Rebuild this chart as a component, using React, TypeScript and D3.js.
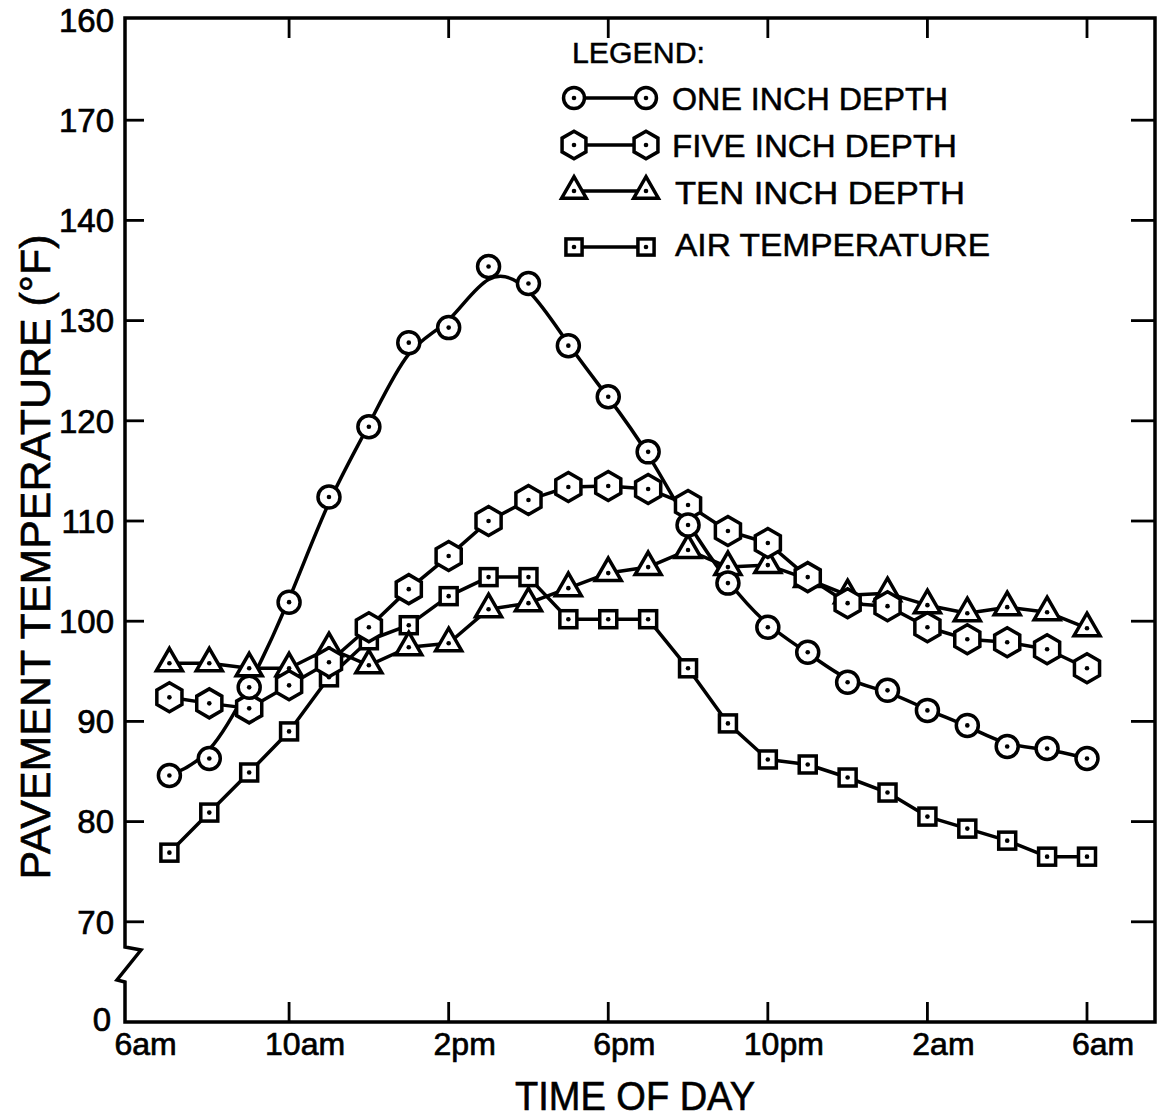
import React from "react";
import * as d3 from "d3";

// ---- data (hours after 6am; 7am .. 6am next day) ----
const hours = [1, 2, 3, 4, 5, 6, 7, 8, 9, 10, 11, 12, 13, 14, 15, 16, 17, 18, 19, 20, 21, 22, 23, 24];
const oneInch = [84.6, 86.3, 93.4, 101.9, 112.4, 119.4, 127.8, 129.3, 135.4, 133.7, 127.5, 122.4, 116.9, 109.6, 103.8, 99.4, 96.9, 93.9, 93.1, 91.1, 89.6, 87.5, 87.3, 86.3];
const fiveInch = [92.4, 91.8, 91.3, 93.6, 95.9, 99.4, 103.2, 106.5, 110.0, 112.1, 113.4, 113.5, 113.2, 111.6, 109.0, 107.8, 104.4, 101.8, 101.5, 99.4, 98.2, 97.9, 97.2, 95.3];
const tenInch = [95.8, 95.8, 95.3, 95.3, 97.3, 95.6, 97.4, 97.8, 101.2, 101.8, 103.3, 104.8, 105.4, 107.1, 105.4, 105.6, 104.2, 102.6, 102.8, 101.6, 100.8, 101.4, 100.9, 99.3];
const airTemp = [76.9, 80.9, 84.9, 89.0, 94.4, 98.1, 99.6, 102.5, 104.4, 104.4, 100.2, 100.2, 100.2, 95.3, 89.8, 86.2, 85.7, 84.4, 82.9, 80.5, 79.3, 78.1, 76.5, 76.5];

const xTickHours = [0, 4, 8, 12, 16, 20, 24];
const xTickLabels = ["6am", "10am", "2pm", "6pm", "10pm", "2am", "6am"];
const yTickValues = [160, 150, 140, 130, 120, 110, 100, 90, 80, 70, 60];
const yTickLabels = ["160", "170", "140", "130", "120", "110", "100", "90", "80", "70", "0"];
const legendTitle = "LEGEND:";
const legendLabels = ["ONE INCH DEPTH", "FIVE INCH DEPTH", "TEN INCH DEPTH", "AIR TEMPERATURE"];

const W = 1161;
const H = 1120;
const LEFT = 125;
const RIGHT = 1155;
const TOP = 18;
const BOTTOM = 1022;
const FONT = "'Liberation Sans', Arial, 'DejaVu Sans', sans-serif";
const SW = 3.5;

const x = d3.scaleLinear().domain([0, 24]).range([129.5, 1087]);
const y = d3.scaleLinear().domain([60, 160]).range([BOTTOM, 20]);

type Kind = "circle" | "hex" | "tri" | "square";

function Marker({ kind, cx, cy, s = 1 }: { kind: Kind; cx: number; cy: number; s?: number }) {
  const common = { fill: "#fff", stroke: "#000", strokeWidth: SW };
  let shape: React.ReactNode = null;
  if (kind === "circle") {
    shape = <circle cx={cx} cy={cy} r={11 * s} {...common} />;
  } else if (kind === "hex") {
    const R = 14.5 * s;
    const pts = d3.range(6).map((i) => {
      const a = ((-90 + 60 * i) * Math.PI) / 180;
      return [cx + R * Math.cos(a), cy + R * Math.sin(a)];
    });
    shape = <polygon points={pts.map((p) => p.join(",")).join(" ")} {...common} strokeLinejoin="miter" />;
  } else if (kind === "tri") {
    const side = 26 * s;
    const h = (side * Math.sqrt(3)) / 2;
    const pts = [
      [cx, cy - (2 * h) / 3],
      [cx + side / 2, cy + h / 3],
      [cx - side / 2, cy + h / 3],
    ];
    shape = <polygon points={pts.map((p) => p.join(",")).join(" ")} {...common} strokeLinejoin="miter" />;
  } else {
    const a = 17 * s;
    shape = <rect x={cx - a / 2} y={cy - a / 2} width={a} height={a} {...common} />;
  }
  return (
    <g>
      {shape}
      <circle cx={cx} cy={cy} r={2.3} fill="#000" />
    </g>
  );
}

const seriesList: { values: number[]; kind: Kind; curve: d3.CurveFactory }[] = [
  { values: airTemp, kind: "square", curve: d3.curveLinear },
  { values: tenInch, kind: "tri", curve: d3.curveLinear },
  { values: fiveInch, kind: "hex", curve: d3.curveLinear },
  { values: oneInch, kind: "circle", curve: d3.curveBasis },
];

export default function App() {
  const lineGen = (curve: d3.CurveFactory) =>
    d3
      .line<number>()
      .x((_, i) => x(hours[i]))
      .y((v) => y(v))
      .curve(curve);

  const innerTicks = yTickValues.filter((v) => v !== 160 && v !== 60);
  const xInner = xTickHours.filter((h) => h !== 0);

  const legendKinds: Kind[] = ["circle", "hex", "tri", "square"];
  const legendMarkY = [98, 145, 191, 247];
  const legendTextY = [110, 157, 204, 256];
  const legendTextX = [672, 672, 675, 675];
  const legendTextLen = [276, 285, 290, 315];

  return (
    <svg
      width={W}
      height={H}
      viewBox={`0 0 ${W} ${H}`}
      style={{ position: "absolute", left: 0, top: 0, background: "#fff" }}
      fontFamily={FONT}
    >
      <rect x={0} y={0} width={W} height={H} fill="#fff" />

      {/* frame */}
      <path
        d={`M${LEFT},${BOTTOM - 40} L${LEFT - 8},${BOTTOM - 42} L${LEFT + 16},${BOTTOM - 72} L${LEFT},${BOTTOM - 75} L${LEFT},${TOP} L${RIGHT},${TOP} L${RIGHT},${BOTTOM} L${LEFT},${BOTTOM} Z`}
        fill="none"
        stroke="#000"
        strokeWidth={SW}
        strokeLinejoin="miter"
      />

      {/* y ticks */}
      {innerTicks.map((v) => (
        <g key={"yt" + v}>
          <line x1={LEFT} x2={LEFT + 19} y1={y(v)} y2={y(v)} stroke="#000" strokeWidth={2.8} />
          <line x1={RIGHT - 24} x2={RIGHT} y1={y(v)} y2={y(v)} stroke="#000" strokeWidth={2.8} />
        </g>
      ))}
      {yTickValues.map((v, i) => (
        <text
          key={"yl" + v}
          x={i === yTickValues.length - 1 ? 111 : 114}
          y={i === yTickValues.length - 1 ? y(v) - 3 : y(v)}
          dy="0.36em"
          textAnchor="end"
          fontSize={33}
          stroke="#000"
          strokeWidth={0.7}
        >
          {yTickLabels[i]}
        </text>
      ))}

      {/* x ticks */}
      {xInner.map((h) => (
        <g key={"xt" + h}>
          <line x1={x(h)} x2={x(h)} y1={BOTTOM} y2={BOTTOM - 20} stroke="#000" strokeWidth={2.8} />
          <line x1={x(h)} x2={x(h)} y1={TOP} y2={TOP + 20} stroke="#000" strokeWidth={2.8} />
        </g>
      ))}
      {xTickHours.map((h, i) => (
        <text
          key={"xl" + i}
          x={x(h) + 16}
          y={1055}
          textAnchor="middle"
          fontSize={32}
          stroke="#000"
          strokeWidth={0.7}
        >
          {xTickLabels[i]}
        </text>
      ))}

      {/* axis titles */}
      <text
        x={515}
        y={1110}
        fontSize={40}
        textLength={240}
        lengthAdjust="spacingAndGlyphs"
        stroke="#000"
        strokeWidth={0.6}
      >
        TIME OF DAY
      </text>
      <text
        transform="translate(50,557) rotate(-90)"
        textAnchor="middle"
        fontSize={42}
        textLength={645}
        lengthAdjust="spacingAndGlyphs"
        stroke="#000"
        strokeWidth={0.6}
      >
        PAVEMENT TEMPERATURE (°F)
      </text>

      {/* series */}
      {seriesList.map((s, si) => (
        <path
          key={"ln" + si}
          d={lineGen(s.curve)(s.values) || ""}
          fill="none"
          stroke="#000"
          strokeWidth={SW}
          strokeLinejoin="round"
        />
      ))}
      {seriesList.map((s, si) => (
        <g key={"mk" + si}>
          {s.values.map((v, i) => (
            <Marker key={i} kind={s.kind} cx={x(hours[i])} cy={y(v)} />
          ))}
        </g>
      ))}

      {/* legend */}
      <text x={572} y={63} fontSize={30} textLength={133} lengthAdjust="spacingAndGlyphs" stroke="#000" strokeWidth={0.5}>
        {legendTitle}
      </text>
      {legendLabels.map((lab, i) => (
        <g key={"lg" + i}>
          <line x1={574} x2={646} y1={legendMarkY[i]} y2={legendMarkY[i]} stroke="#000" strokeWidth={SW} />
          <Marker kind={legendKinds[i]} cx={574} cy={legendMarkY[i]} s={0.95} />
          <Marker kind={legendKinds[i]} cx={646} cy={legendMarkY[i]} s={0.95} />
          <text
            x={legendTextX[i]}
            y={legendTextY[i]}
            fontSize={32}
            textLength={legendTextLen[i]}
            lengthAdjust="spacingAndGlyphs"
            stroke="#000"
            strokeWidth={0.5}
          >
            {lab}
          </text>
        </g>
      ))}
    </svg>
  );
}
